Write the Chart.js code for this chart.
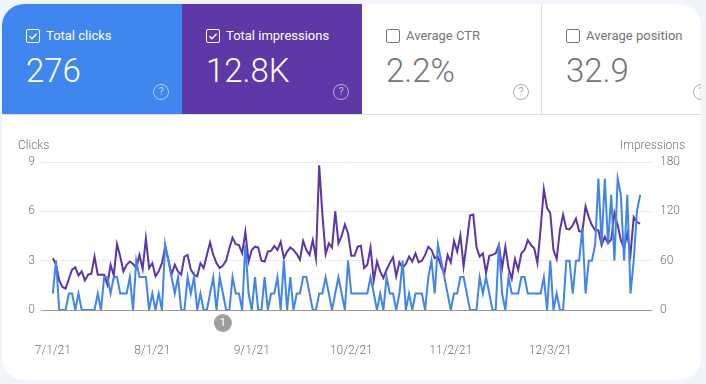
<!DOCTYPE html>
<html><head><meta charset="utf-8">
<style>
html,body{margin:0;padding:0;width:706px;height:384px;overflow:hidden;background:#f1f4fb;font-family:Roboto,sans-serif}
#card{position:absolute;left:2px;top:4px;width:699px;height:376px;background:#fff;border-radius:22px;overflow:hidden}
.tile{position:absolute;top:0;height:110px;box-sizing:border-box}
.t1{left:0;width:180px;background:#4086ef;color:#fff}
.t2{left:180px;width:180px;background:#5e38a6;color:#fff}
.t3{left:360px;width:180px;color:#757575;border-right:1px solid #e0e0e0}
.t4{left:540px;width:180px;color:#757575}
#rule{position:absolute;left:0;right:0;top:110px;height:1px;background:#e0e0e0}
.box{position:absolute;left:24px;top:25px;width:12px;height:12px;border:1.5px solid currentColor;border-radius:2px}
.box svg{position:absolute;left:0;top:0;width:12px;height:12px}
.lab{position:absolute;left:44px;top:24px;font-size:13px;line-height:16px;white-space:nowrap}
.val{position:absolute;left:24px;top:47px;font-size:33px;line-height:40px;font-weight:300;white-space:nowrap}
.q{position:absolute;left:151px;top:80px;width:14px;height:14px;border:1.5px solid;border-radius:50%;font-size:11px;line-height:14px;text-align:center;opacity:.6}
canvas{position:absolute;left:0;top:0}
</style></head><body>
<div id="card">
<div class="tile t1"><div class="box"><svg viewBox="0 0 12 12"><path d="M2.5 6.2l2.5 2.5 4.6-5" fill="none" stroke="#fff" stroke-width="1.3"/></svg></div><div class="lab">Total clicks</div><div class="val">276</div><div class="q">?</div></div>
<div class="tile t2"><div class="box"><svg viewBox="0 0 12 12"><path d="M2.5 6.2l2.5 2.5 4.6-5" fill="none" stroke="#fff" stroke-width="1.3"/></svg></div><div class="lab">Total impressions</div><div class="val">12.8K</div><div class="q">?</div></div>
<div class="tile t3"><div class="box"></div><div class="lab">Average CTR</div><div class="val">2.2%</div><div class="q">?</div></div>
<div class="tile t4"><div class="box"></div><div class="lab">Average position</div><div class="val">32.9</div><div class="q">?</div></div>
<div id="rule"></div>
</div>
<canvas id="c" width="706" height="384"></canvas>
<script src="https://cdn.jsdelivr.net/npm/chart.js@4"></script>
<script>
const tickLabels = ['7/1/21','8/1/21','9/1/21','10/2/21','11/2/21','12/3/21'];
const tickDays = [0,31,62,93,124,155];
const annotationDay = 53;
const clicks = [1,3,0,0,0,1,1,0,1,0,0,0,0,0,1,0,2,2,1,2,2,1,1,1,2,0,3,2,2,2,0,1,0,1,0,4,3,2,1,2,0,0,2,1,2,0,
1,0,0,1,2,0,2,1,0,0,2,1,1,0,4,1,0,2,0,0,2,0,1,1,2,0,3,0,2,0,1,1,2,2,1,0,0,1,1,2,1,0,1,2,1,0,
3,1,1,1,1,1,1,2,1,0,1,0,2,1,1,0,1,3,0,1,0,1,1,1,0,2,3,1,4,3,2,1,0,1,1,2,2,1,0,0,0,2,1,2,1,0,0,4,
1,0,2,1,1,1,2,2,1,1,1,1,1,2,0,3,0,1,0,0,3,3,1,3,3,5,1,3,3,4,8,4,8,4,7,3,8,7,3,7,1,3,6,7];
const impressions = [63,55,36,28,26,38,49,52,42,47,36,43,44,65,43,43,43,31,55,42,80,65,47,55,59,56,51,67,50,87,51,57,41,47,57,77,61,43,55,47,43,65,67,49,43,41,
57,51,67,82,67,57,51,54,60,75,88,80,79,69,95,59,73,77,76,60,59,71,72,78,73,83,63,71,76,73,68,61,84,73,67,85,63,176,116,68,81,76,120,81,90,
104,93,66,66,77,78,51,55,76,36,59,47,39,49,57,64,41,58,51,56,65,59,69,58,60,67,77,73,63,65,53,44,67,58,84,71,91,53,83,115,116,77,65,69,45,66,67,69,79,
51,77,51,38,62,49,69,73,85,79,75,57,99,147,124,118,73,62,97,116,99,98,103,111,96,95,126,113,103,97,97,79,89,81,86,118,103,85,75,93,68,113,107,105];
const clickTicks = [0,3,6,9];
const impressionTicks = [0,60,120,180];
const pairs = a => a.map((y,x)=>({x,y}));
const gray = '#757575';
const font = {family:'Roboto',size:12,weight:'300'};
const fixY = (w,ax) => { ax.width = w; };
const fixX = ax => { ax.height = 74; };
const marker = {id:'marker',afterDatasetsDraw(ch){
  const {ctx,scales} = ch, x = scales.x.getPixelForValue(annotationDay), y = scales.y.bottom + 13;
  ctx.save();ctx.fillStyle='#9e9e9e';ctx.beginPath();ctx.arc(x,y,9,0,Math.PI*2);ctx.fill();
  ctx.fillStyle='#fff';ctx.font='11px Roboto';ctx.textAlign='center';ctx.textBaseline='middle';ctx.fillText('1',x,y);ctx.restore();
}};
new Chart(document.getElementById('c'),{
 type:'line',
 plugins:[marker],
 data:{datasets:[
  {label:'Clicks',data:pairs(clicks),yAxisID:'y',borderColor:'#4285e8',borderWidth:2,pointRadius:0,tension:0,order:1},
  {label:'Impressions',data:pairs(impressions),yAxisID:'y1',borderColor:'#5e35a6',borderWidth:2,pointRadius:0,tension:0,order:2}
 ]},
 options:{
  responsive:false,animation:false,
  layout:{padding:{left:0,right:0,top:162,bottom:0}},
  plugins:{legend:{display:false},tooltip:{enabled:false}},
  scales:{
   x:{type:'linear',min:-3.7,max:186.7,
      afterBuildTicks(ax){ax.ticks=tickDays.map(value=>({value}));},
      afterFit:fixX,
      grid:{display:false,drawTicks:false},border:{display:false},
      ticks:{autoSkip:false,maxRotation:0,color:gray,font,padding:34,callback:v=>tickLabels[tickDays.indexOf(v)]}},
   y:{position:'left',min:0,max:9,
      afterBuildTicks(ax){ax.ticks=clickTicks.map(value=>({value}));},
      afterFit:ax=>fixY(38,ax),
      grid:{color:c=>c.tick.value===0?'#999':'#ececec',drawTicks:false},border:{display:false},
      ticks:{color:gray,font,padding:6},
      title:{display:false}},
   y1:{position:'right',min:0,max:180,
      afterBuildTicks(ax){ax.ticks=impressionTicks.map(value=>({value}));},
      afterFit:ax=>fixY(54,ax),
      grid:{display:false,drawTicks:false},border:{display:false},
      ticks:{color:gray,font,padding:8}}
  }
 }
});
</script>
<div style="position:absolute;left:18px;top:138px;font-size:12px;line-height:14px;color:#757575;font-weight:300">Clicks</div>
<div style="position:absolute;right:21px;top:138px;font-size:12px;line-height:14px;color:#757575;font-weight:300">Impressions</div>
</body></html>
